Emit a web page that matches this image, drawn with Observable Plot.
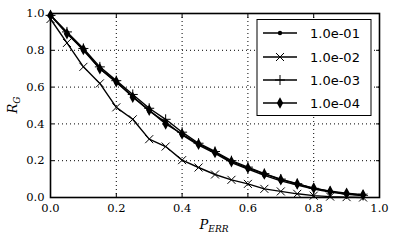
<!DOCTYPE html>
<html><head><meta charset="utf-8">
<script src="https://cdn.jsdelivr.net/npm/d3@7"></script>
<script src="https://cdn.jsdelivr.net/npm/@observablehq/plot@0.6"></script>
<style>
body{margin:0;background:#fff}#c{position:relative;width:399px;height:246px}
#c svg g[aria-label="x-axis tick label"] text, #c svg g[aria-label="y-axis tick label"] text{font-family:"DejaVu Serif",serif !important;font-size:11.5px !important}
#c svg text.lgt{font-family:"DejaVu Sans",sans-serif !important;font-size:13px !important}
#c svg text.axl{font-family:"DejaVu Serif",serif !important;font-style:italic}
</style>
</head><body><div id="c"></div>
<script>
const xs = [0,0.05,0.1,0.15,0.2,0.25,0.3,0.35,0.4,0.45,0.5,0.55,0.6,0.65,0.7,0.75,0.8,0.85,0.9,0.95];
const seriesNames = ["1.0e-01","1.0e-02","1.0e-03","1.0e-04"];
const s01 = [0.99,0.895,0.80,0.70,0.625,0.55,0.47,0.41,0.34,0.285,0.24,0.19,0.155,0.12,0.09,0.068,0.046,0.03,0.018,0.01];
const s02 = [0.97,0.84,0.71,0.62,0.49,0.425,0.317,0.277,0.203,0.163,0.125,0.096,0.074,0.047,0.033,0.02,0.01,0.005,0.002,0.0];
const s03 = [0.99,0.90,0.81,0.71,0.635,0.56,0.485,0.425,0.355,0.295,0.25,0.20,0.165,0.13,0.10,0.075,0.05,0.033,0.02,0.012];
const s04 = [0.99,0.89,0.805,0.70,0.63,0.545,0.475,0.40,0.345,0.29,0.245,0.195,0.16,0.128,0.097,0.074,0.051,0.034,0.023,0.015];
const xTicks = [0,0.2,0.4,0.6,0.8,1.0];
const yTicks = [0,0.2,0.4,0.6,0.8,1.0];

const allS = [s01,s02,s03,s04];
const data = [];
allS.forEach((s,i)=> s.forEach((v,j)=> data.push({x:xs[j], y:v, s:seriesNames[i]})));

const sym = {
  dot:{draw(c,size){const r=Math.sqrt(size/Math.PI);c.moveTo(r,0);c.arc(0,0,r,0,2*Math.PI);}},
  times:{draw(c,size){const r=Math.sqrt(size/Math.PI);c.moveTo(-r,-r);c.lineTo(r,r);c.moveTo(-r,r);c.lineTo(r,-r);}},
  plus:{draw(c,size){const r=Math.sqrt(size/Math.PI);c.moveTo(-r,0);c.lineTo(r,0);c.moveTo(0,-r);c.lineTo(0,r);}},
  tdiam:{draw(c,size){const r=Math.sqrt(size/Math.PI);c.moveTo(0,-r);c.lineTo(0.55*r,0);c.lineTo(0,r);c.lineTo(-0.55*r,0);c.closePath();}}
};
const styles = {
  "1.0e-01":{symbol:sym.dot,r:2.2,fill:"black",stroke:"none"},
  "1.0e-02":{symbol:sym.times,r:4,fill:"none",stroke:"black"},
  "1.0e-03":{symbol:sym.plus,r:5,fill:"none",stroke:"black"},
  "1.0e-04":{symbol:sym.tdiam,r:5.8,fill:"black",stroke:"none"}
};

const marks = [
  Plot.gridX(xTicks,{stroke:"black",strokeOpacity:1,strokeWidth:1,strokeDasharray:"1,3"}),
  Plot.gridY(yTicks,{stroke:"black",strokeOpacity:1,strokeWidth:1,strokeDasharray:"1,3"}),
  Plot.axisX(xTicks,{anchor:"bottom",tickSize:-4,tickPadding:10,tickFormat:d=>d.toFixed(1),label:null,strokeOpacity:1}),
  Plot.axisX(xTicks,{anchor:"top",tickSize:-4,text:null,label:null,strokeOpacity:1}),
  Plot.axisY(yTicks,{anchor:"left",tickSize:-4,tickPadding:10,tickFormat:d=>d.toFixed(1),label:null,strokeOpacity:1}),
  Plot.axisY(yTicks,{anchor:"right",tickSize:-4,text:null,label:null,strokeOpacity:1}),
];
seriesNames.forEach(n=>{
  const d = data.filter(p=>p.s===n);
  marks.push(Plot.line(d,{x:"x",y:"y",stroke:"black",strokeWidth:1.4}));
  const st = styles[n];
  marks.push(Plot.dot(d,{x:"x",y:"y",symbol:st.symbol,r:st.r,fill:st.fill,stroke:st.stroke,strokeWidth:1}));
});
marks.push(Plot.frame({stroke:"black",strokeWidth:1.6}));

const chart = Plot.plot({
  width:399,height:246,marginLeft:50,marginRight:20,marginTop:13,marginBottom:49,
  x:{domain:[0,1]},y:{domain:[0,1]},
  style:{background:"white",color:"black"},
  marks
});
document.getElementById("c").appendChild(chart);

const svg = d3.select(chart);
// axis labels
const xl = svg.append("text").attr("class","axl").attr("x",214).attr("y",229).attr("text-anchor","middle")
  .attr("font-size",13).attr("fill","black");
xl.append("tspan").text("P");
xl.append("tspan").attr("font-size",9).attr("dy",3).text("ERR");
const yl = svg.append("text").attr("class","axl").attr("transform","translate(17,105) rotate(-90)").attr("text-anchor","middle")
  .attr("font-size",13).attr("fill","black");
yl.append("tspan").text("R");
yl.append("tspan").attr("font-size",9).attr("dy",3).text("G");

// legend
const lg = svg.append("g");
lg.append("rect").attr("x",257).attr("y",19.5).attr("width",114).attr("height",96).attr("fill","white").attr("stroke","black").attr("stroke-width",1);
const ys = [33,57,80,103];
seriesNames.forEach((n,i)=>{
  const y = ys[i];
  lg.append("line").attr("x1",263).attr("x2",297).attr("y1",y).attr("y2",y).attr("stroke","black").attr("stroke-width",1.4);
  const st = styles[n];
  const p = d3.path(); st.symbol.draw(p, st.r*st.r*Math.PI);
  lg.append("path").attr("transform",`translate(280,${y})`).attr("d",p.toString())
    .attr("fill",st.fill).attr("stroke",st.stroke==="none"?null:st.stroke).attr("stroke-width",1);
  lg.append("text").attr("class","lgt").attr("x",310).attr("y",y).attr("dy","0.35em").attr("text-anchor","start")
    .attr("fill","black").text(n);
});
</script></body></html>
